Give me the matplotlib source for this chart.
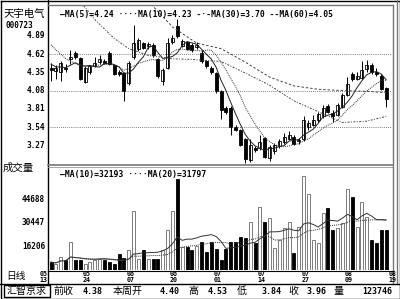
import numpy as np
import pandas as pd
import matplotlib
matplotlib.use("Agg")
import matplotlib.pyplot as plt

plt.rcParams['font.family'] = ['Noto Sans CJK SC', 'DejaVu Sans']

# daily bars, 2005-05-13 .. 2005-08-19
opens = [4.41, 4.37, 4.35, 4.42, 4.55, 4.63, 4.56, 4.20, 4.36, 4.45,
         4.50, 4.52, 4.64, 4.46, 4.36, 4.34, 4.19, 4.58, 4.70, 4.78,
         4.74, 4.76, 4.54, 4.22, 4.41, 4.79, 5.03, 4.74, 4.79, 4.76,
         4.73, 4.64, 4.51, 4.42, 4.34, 4.07, 3.83, 3.83, 3.55, 3.50,
         3.36, 3.05, 3.24, 3.24, 3.38, 3.08, 3.19, 3.27, 3.32, 3.37,
         3.39, 3.33, 3.36, 3.54, 3.58, 3.65, 3.70, 3.85, 3.75, 3.72,
         3.84, 4.02, 4.33, 4.25, 4.27, 4.40, 4.46, 4.36, 4.30, 4.12]
highs = [4.49, 4.46, 4.52, 4.47, 4.68, 4.66, 4.58, 4.44, 4.46, 4.57,
         4.60, 4.55, 4.66, 4.48, 4.38, 4.35, 4.52, 5.05, 4.86, 4.80,
         4.80, 4.78, 4.56, 4.41, 4.86, 4.90, 5.13, 4.84, 4.81, 4.78,
         4.79, 4.68, 4.53, 4.44, 4.36, 4.09, 3.85, 3.85, 3.57, 3.52,
         3.38, 3.36, 3.27, 3.43, 3.40, 3.28, 3.31, 3.36, 3.45, 3.48,
         3.42, 3.38, 3.70, 3.64, 3.72, 3.76, 3.87, 3.88, 3.79, 3.90,
         4.05, 4.28, 4.36, 4.36, 4.51, 4.53, 4.49, 4.42, 4.33, 4.14]
lows = [4.22, 4.25, 4.22, 4.35, 4.48, 4.55, 4.24, 4.19, 4.33, 4.43,
        4.48, 4.47, 4.46, 4.31, 4.30, 3.93, 4.17, 4.55, 4.66, 4.69,
        4.70, 4.58, 4.27, 4.17, 4.40, 4.77, 4.86, 4.72, 4.68, 4.65,
        4.70, 4.49, 4.42, 4.33, 4.05, 3.66, 3.74, 3.43, 3.48, 3.27,
        3.02, 3.03, 3.17, 3.20, 3.08, 3.04, 3.15, 3.24, 3.30, 3.35,
        3.28, 3.30, 3.34, 3.50, 3.56, 3.62, 3.68, 3.75, 3.62, 3.70,
        3.82, 4.00, 4.22, 4.23, 4.25, 4.36, 4.33, 4.30, 4.09, 3.84]
closes = [4.38, 4.42, 4.49, 4.40, 4.58, 4.57, 4.25, 4.42, 4.44, 4.49,
          4.54, 4.49, 4.47, 4.33, 4.32, 4.08, 4.49, 4.78, 4.83, 4.71,
          4.77, 4.61, 4.29, 4.39, 4.78, 4.85, 4.88, 4.81, 4.70, 4.68,
          4.75, 4.51, 4.44, 4.35, 4.07, 3.80, 3.76, 3.55, 3.50, 3.28,
          3.07, 3.28, 3.20, 3.32, 3.10, 3.25, 3.28, 3.33, 3.39, 3.43,
          3.30, 3.35, 3.65, 3.61, 3.65, 3.73, 3.83, 3.77, 3.70, 3.87,
          4.02, 4.18, 4.25, 4.30, 4.38, 4.46, 4.35, 4.32, 4.11, 3.96]
volume = [6400, 5400, 9500, 7400, 18800, 7400, 7400, 5400, 6400, 7400,
          8400, 7400, 6400, 5400, 11600, 9000, 14000, 37300, 8400, 13600,
          8400, 8400, 8400, 13600, 26000, 37300, 57000, 15700, 15700, 13600,
          16000, 18800, 12600, 18800, 14600, 7400, 14600, 18800, 18800, 21900,
          21000, 31000, 17800, 40000, 31000, 33400, 15000, 20000, 27000, 31000,
          12000, 28000, 59000, 47700, 20000, 18000, 36500, 39600, 26000, 27194,
          30000, 50800, 46400, 27700, 43300, 34000, 19746, 18000, 26000, 26000]
# closes before the first visible bar (only feed the short averages)
prior_close = [5.20, 5.10, 5.05, 4.98, 4.90, 4.62, 4.50, 4.45, 4.40]

# long averages
ma30_bar = [6, 9, 13, 16, 20, 25, 29, 35, 40, 45, 50, 55, 60, 65, 69]
ma30_val = [5.40, 5.13, 4.85, 4.70, 4.60, 4.55, 4.54, 4.51, 4.34, 4.16, 3.93, 3.77, 3.61, 3.63, 3.70]
ma60_bar = [20, 25, 30, 35, 40, 45, 50, 55, 60, 65, 69]
ma60_val = [5.40, 5.02, 4.78, 4.70, 4.50, 4.28, 4.15, 4.10, 4.08, 4.07, 4.05]

price_ticks = [4.89, 4.62, 4.35, 4.08, 3.81, 3.54, 3.27]
price_grid = [4.62, 4.08, 3.54]
vol_ticks = [44688, 30447, 16206]
date_labels = ['05\n13', '05\n24', '06\n07', '06\n20', '07\n01', '07\n14', '07\n27', '08\n09', '08\n19']
date_pos = [-1.6, 7.3, 16.3, 25.3, 34.3, 43.3, 52.3, 61.3, 70.3]

n = len(closes)
x = np.arange(n)
o = np.array(opens); c = np.array(closes)
h = np.array(highs); l = np.array(lows)
up = c >= o

allc = pd.Series(prior_close + closes)
ma5 = allc.rolling(5, min_periods=1).mean().values[len(prior_close):]
ma10 = allc.rolling(10, min_periods=1).mean().values[len(prior_close):]
vs = pd.Series(volume)
vma10 = vs.rolling(10, min_periods=1).mean()
vma20 = vs.rolling(20, min_periods=1).mean()

W, H = 400, 299
fig = plt.figure(figsize=(W / 100, H / 100), dpi=100)
fig.patch.set_facecolor('white')

def px_rect(x0, y0, x1, y1):
    return [x0 / W, 1 - y1 / H, (x1 - x0) / W, (y1 - y0) / H]

mono = dict(family='DejaVu Sans Mono', fontweight='bold')
xlo, xhi = -0.62, 70.2

# price panel
ax = fig.add_axes(px_rect(48, 5, 392, 164))
ax.set_xlim(xlo, xhi)
ax.set_ylim(2.998, 5.343)
for yv in price_grid:
    ax.axhline(yv, color='#555555', lw=0.6, ls=(0, (1, 1.5)))
ax.vlines(x, l, h, color='black', lw=0.7)
ax.bar(x[up], (c - o)[up], bottom=o[up], width=0.62, facecolor='white', edgecolor='black', lw=0.6)
ax.bar(x[~up], (o - c)[~up], bottom=c[~up], width=0.62, facecolor='black', edgecolor='black', lw=0.6)
ax.plot(x, ma5, color='#222222', lw=0.7)
ax.plot(x, ma10, color='#333333', lw=0.7, ls=(0, (1, 1)))
ax.plot(ma30_bar, ma30_val, color='#444444', lw=0.7, ls=(0, (2, 1.5, 1, 1.5)))
ax.plot(ma60_bar, ma60_val, color='#444444', lw=0.7, ls=(0, (2.5, 2)))
ax.set_xticks([]); ax.set_yticks([])
for s in ax.spines.values():
    s.set_visible(False)

# volume panel
av = fig.add_axes(px_rect(48, 166, 392, 270))
av.set_xlim(xlo, xhi)
av.set_ylim(1586, 65000)
vv = np.array(volume)
av.bar(x[up], vv[up], width=0.62, facecolor='white', edgecolor='#666666', lw=0.6)
av.bar(x[~up], vv[~up], width=0.62, facecolor='black', edgecolor='black', lw=0.6)
av.plot(x, vma10, color='#333333', lw=0.7)
av.plot(x, vma20, color='#333333', lw=0.7, ls=(0, (1, 1)))
av.set_xticks([]); av.set_yticks([])
for s in av.spines.values():
    s.set_visible(False)

# overlay in pixel coordinates for frame and labels
ov = fig.add_axes([0, 0, 1, 1], zorder=5)
ov.set_xlim(0, W); ov.set_ylim(H, 0)
ov.axis('off')
ov.patch.set_alpha(0)
k = dict(color='black', lw=1.0)
ov.plot([0.5, 399.5, 399.5, 0.5, 0.5], [0.5, 0.5, 298.5, 298.5, 0.5], **k)
ov.plot([47.5, 47.5], [0, 283.5], **k)
ov.plot([47.5, 393], [4.5, 4.5], color='#777777', lw=1.0)
ov.plot([47.5, 393], [164.5, 164.5], color='#777777', lw=1.2)
ov.plot([47.5, 393], [166.5, 166.5], color='#999999', lw=0.6)
ov.plot([393, 393], [4.5, 283.5], color='#777777', lw=1.0)
ov.plot([396.5, 396.5], [0, 283.5], color='#777777', lw=1.0)
ov.plot([47.5, 393], [270.5, 270.5], color='black', lw=0.8)
ov.plot([0, 400], [283.5, 283.5], **k)

ov.text(4, 14, '天宇电气', fontsize=7.5, va='center', ha='left')
ov.text(6, 26, '000723', fontsize=5.5, va='center', ha='left', **mono)
for pv in price_ticks:
    yp = 35.7 + (4.89 - pv) * 67.8
    ov.text(45, yp, '%.2f' % pv, fontsize=5.6, va='center', ha='right', **mono)
for vt in vol_ticks:
    yp = 272.6 - vt / 609.9
    ov.text(45, yp, str(vt), fontsize=5.6, va='center', ha='right', **mono)
ov.text(3, 168, '成交量', fontsize=7.5, va='center', ha='left')
ov.text(6, 276, '日线', fontsize=7, va='center', ha='left')

ov.text(60, 14, '—MA(5)=4.24 ····MA(10)=4.23 -·-MA(30)=3.70 --MA(60)=4.05',
        fontsize=5.8, va='center', ha='left', **mono)
ov.text(60, 175, '—MA(10)=32193 ····MA(20)=31797', fontsize=5.8, va='center', ha='left', **mono)

for lab, p in zip(date_labels, date_pos):
    xp = 51 + p * 4.86
    ov.text(xp, 277, lab, fontsize=4.8, va='center', ha='center', linespacing=0.9, **mono)

ov.add_patch(plt.Rectangle((3.5, 284.5), 46, 12.5, fill=False, ec='black', lw=1.0))
ov.text(26.5, 291, '汇智京求', fontsize=7.2, va='center', ha='center')
info = [('前收', 53), ('4.38', 83), ('本周开', 113), ('4.40', 160), ('高', 188),
        ('4.53', 208), ('低', 237), ('3.84', 262), ('收', 288), ('3.96', 307),
        ('量', 333), ('123746', 362)]
for t, xp in info:
    if t[0].isdigit():
        ov.text(xp, 291, t, fontsize=6, va='center', ha='left', **mono)
    else:
        ov.text(xp, 291, t, fontsize=7.2, va='center', ha='left')

fig.savefig('out.png', dpi=100, facecolor='white')
